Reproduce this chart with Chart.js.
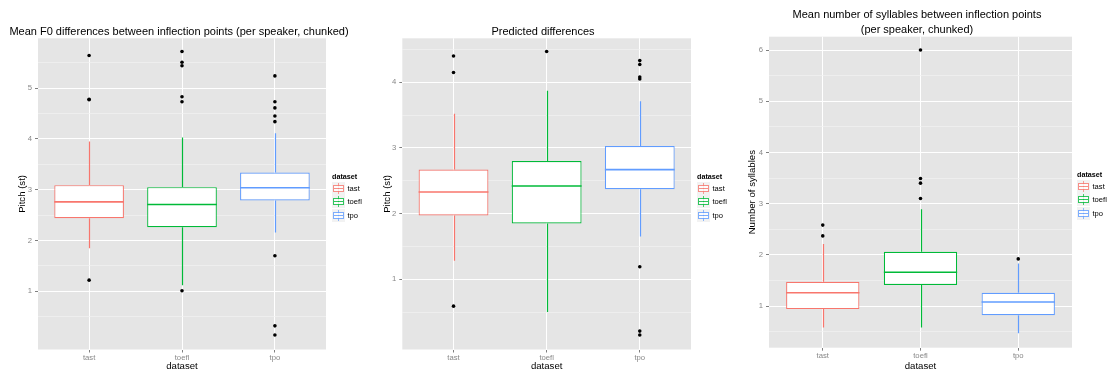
<!DOCTYPE html>
<html>
<head>
<meta charset="utf-8">
<script src="https://cdn.jsdelivr.net/npm/chart.js@4.4.1/dist/chart.umd.min.js"></script>
<style>
  html, body { margin: 0; padding: 0; background: #fff; }
  body { width: 1107px; height: 371px; position: relative; overflow: hidden; font-family: "Liberation Sans", Arial, sans-serif; }
  canvas { position: absolute; top: 0; }
  .title { position: absolute; width: 400px; text-align: center; font-size: 11px; line-height: 15px; color: #000; white-space: nowrap; }
  .legend { position: absolute; font-size: 7.6px; color: #000; white-space: nowrap; will-change: transform; }
  .legend .lt { font-weight: bold; font-size: 7.2px; height: 11px; line-height: 11px; }
  .legend .row { display: flex; align-items: center; height: 13.3px; }
  .key { position: relative; width: 13px; height: 13px; background: #f2f2f2; margin-right: 2.5px; flex: none; }
  .key .wh { position: absolute; left: 6px; top: 1px; width: 1px; height: 11px; opacity: 0.7; }
  .key .bx { position: absolute; left: 1px; top: 3px; width: 9px; height: 5px; background: #fff; border: 1px solid; opacity: 0.8; }
  .key .md { position: absolute; left: 0; right: 0; top: 2px; border-top: 1px solid; }
</style>
</head>
<body>
<canvas id="f0-chart" width="330" height="371" style="left:0px"></canvas>
<canvas id="pred-chart" width="325" height="371" style="left:370px"></canvas>
<canvas id="syl-chart" width="336" height="371" style="left:740px"></canvas>

<div class="title" style="left:-21px; top:24px">Mean F0 differences between inflection points (per speaker, chunked)</div>
<div class="title" style="left:343px; top:24px">Predicted differences</div>
<div class="title" style="left:717px; top:7px">Mean number of syllables between inflection points<br>(per speaker, chunked)</div>

<div class="legend" id="legend-f0" style="left:332px; top:171px"></div>
<div class="legend" id="legend-pred" style="left:697px; top:171px"></div>
<div class="legend" id="legend-syl" style="left:1077px; top:169px"></div>

<script>
const categories = ['tast', 'toefl', 'tpo'];
const boxColors = ['#F8766D', '#00BA38', '#619CFF'];

// Mean F0 differences (st)
const f0Low = [1.85, 1.12, 2.16];
const f0Q1 = [2.44, 2.26, 2.79];
const f0Median = [2.76, 2.71, 3.04];
const f0Q3 = [3.09, 3.05, 3.34];
const f0High = [3.95, 4.03, 4.11];
const f0Outliers = [
  [5.64, 4.78, 4.77, 1.22],
  [5.72, 5.51, 5.44, 4.83, 4.73, 1.01],
  [5.24, 4.73, 4.61, 4.45, 4.34, 1.70, 0.32, 0.14]
];
const f0Ticks = [1, 2, 3, 4, 5];

// Predicted differences (st)
const predLow = [1.28, 0.50, 1.65];
const predQ1 = [1.97, 1.85, 2.37];
const predMedian = [2.33, 2.42, 2.67];
const predQ3 = [2.67, 2.80, 3.03];
const predHigh = [3.52, 3.87, 3.71];
const predOutliers = [
  [4.40, 4.15, 0.59],
  [4.47],
  [4.33, 4.27, 4.08, 4.05, 1.19, 0.21, 0.15]
];
const predTicks = [1, 2, 3, 4];

// Mean number of syllables
const sylLow = [0.58, 0.58, 0.47];
const sylQ1 = [0.94, 1.41, 0.82];
const sylMedian = [1.26, 1.66, 1.08];
const sylQ3 = [1.475, 2.06, 1.26];
const sylHigh = [2.21, 2.89, 1.83];
const sylOutliers = [
  [2.58, 2.37],
  [6.00, 3.49, 3.40, 3.10],
  [1.92]
];
const sylTicks = [1, 2, 3, 4, 5, 6];

Chart.defaults.font.family = '"Liberation Sans", Arial, sans-serif';

// grey panel, whiskers and medians
const boxPlugin = (stats) => ({
  id: 'boxExtras',
  beforeDraw(chart) {
    const { ctx, chartArea: a } = chart;
    ctx.save();
    ctx.fillStyle = '#e5e5e5';
    ctx.fillRect(a.left, a.top, a.right - a.left, a.bottom - a.top);
    ctx.restore();
  },
  afterDatasetsDraw(chart) {
    const { ctx } = chart;
    const y = chart.scales.y;
    const bars = chart.getDatasetMeta(0).data;
    ctx.save();
    bars.forEach((bar, i) => {
      const half = bar.width / 2;
      const cx = Math.round(bar.x) + 0.5;
      ctx.strokeStyle = boxColors[i];
      ctx.lineWidth = 1.2;
      ctx.beginPath();
      ctx.moveTo(cx, y.getPixelForValue(stats.q3[i]));
      ctx.lineTo(cx, y.getPixelForValue(stats.high[i]));
      ctx.moveTo(cx, y.getPixelForValue(stats.q1[i]));
      ctx.lineTo(cx, y.getPixelForValue(stats.low[i]));
      ctx.stroke();
      const m = y.getPixelForValue(stats.median[i]);
      ctx.lineWidth = 1.6;
      ctx.beginPath();
      ctx.moveTo(bar.x - half, m);
      ctx.lineTo(bar.x + half, m);
      ctx.stroke();
    });
    ctx.restore();
  }
});

function drawBoxChart(id, cfg) {
  const isMajor = v => cfg.ticks.includes(v);
  const isMinor = v => Math.abs(v % 1 - 0.5) < 1e-9;
  const outliers = [];
  cfg.outliers.forEach((list, i) => list.forEach(v => outliers.push({ x: i + 1, y: v })));

  new Chart(document.getElementById(id), {
    type: 'bar',
    data: {
      datasets: [{
        data: categories.map((c, i) => ({ x: i + 1, y: [cfg.q1[i], cfg.q3[i]] })),
        backgroundColor: '#ffffff',
        borderColor: boxColors,
        borderWidth: 1.2,
        borderSkipped: false,
        barPercentage: 0.75,
        categoryPercentage: 1
      }, {
        type: 'line',
        data: outliers,
        showLine: false,
        pointRadius: 1.8,
        pointBorderWidth: 0,
        pointBackgroundColor: '#000'
      }]
    },
    options: {
      responsive: false,
      animation: false,
      events: [],
      layout: { padding: cfg.padding },
      plugins: { legend: { display: false }, title: { display: false }, tooltip: { enabled: false } },
      scales: {
        x: {
          type: 'linear',
          min: 0.45,
          max: 3.55,
          offset: false,
          border: { display: false },
          grid: { offset: false, color: '#ffffff', lineWidth: 1, tickColor: '#7f7f7f', tickLength: 3 },
          ticks: {
            stepSize: 1,
            autoSkip: false,
            includeBounds: false,
            padding: 1,
            color: '#888',
            font: { size: 7.7 },
            callback: v => categories[v - 1] || ''
          },
          title: { display: true, text: 'dataset', color: '#000', font: { size: 9.6, lineHeight: 1 }, padding: 0 },
          afterFit: s => { s.height = cfg.xHeight; }
        },
        y: {
          min: cfg.min,
          max: cfg.max,
          border: { display: false },
          grid: {
            color: c => isMajor(c.tick.value) ? '#ffffff' : (isMinor(c.tick.value) ? '#f2f2f2' : 'rgba(0,0,0,0)'),
            lineWidth: c => isMajor(c.tick.value) ? 1 : 0.7,
            tickColor: c => isMajor(c.tick.value) ? '#7f7f7f' : 'rgba(0,0,0,0)',
            tickLength: 3
          },
          ticks: {
            stepSize: 0.5,
            maxTicksLimit: 30,
            autoSkip: false,
            includeBounds: false,
            padding: 3,
            color: '#888',
            font: { size: 7.7 },
            callback: v => isMajor(v) ? String(v) : ''
          },
          title: { display: true, text: cfg.yTitle, color: '#000', font: { size: 9.6, lineHeight: 1 }, padding: { top: cfg.yTitlePad, bottom: 0 } },
          afterFit: s => { s.width = cfg.yWidth; }
        }
      }
    },
    plugins: [boxPlugin(cfg)]
  });
}

function drawLegend(id) {
  const el = document.getElementById(id);
  let html = '<div class="lt">dataset</div>';
  categories.forEach((c, i) => {
    const col = boxColors[i];
    html += `<div class="row"><div class="key"><div class="wh" style="background:${col}"></div>` +
      `<div class="bx" style="border-color:${col}"><div class="md" style="border-color:${col}"></div></div></div>${c}</div>`;
  });
  el.innerHTML = html;
}

drawBoxChart('f0-chart', {
  low: f0Low, q1: f0Q1, median: f0Median, q3: f0Q3, high: f0High, outliers: f0Outliers, ticks: f0Ticks,
  min: -0.145, max: 5.98, yTitle: 'Pitch (st)', yTitlePad: 17.2, yWidth: 38, xHeight: 21.5,
  padding: { left: 0, right: 1.7, top: 38.3, bottom: 0 }
});
drawBoxChart('pred-chart', {
  low: predLow, q1: predQ1, median: predMedian, q3: predQ3, high: predHigh, outliers: predOutliers, ticks: predTicks,
  min: -0.07, max: 4.67, yTitle: 'Pitch (st)', yTitlePad: 12.8, yWidth: 32.3, xHeight: 21.5,
  padding: { left: 0, right: 2.3, top: 38.3, bottom: 0 }
});
drawBoxChart('syl-chart', {
  low: sylLow, q1: sylQ1, median: sylMedian, q3: sylQ3, high: sylHigh, outliers: sylOutliers, ticks: sylTicks,
  min: 0.186, max: 6.26, yTitle: 'Number of syllables', yTitlePad: 7.2, yWidth: 29, xHeight: 23.3,
  padding: { left: 0, right: 2.7, top: 36.7, bottom: 0 }
});

drawLegend('legend-f0');
drawLegend('legend-pred');
drawLegend('legend-syl');
</script>
</body>
</html>
